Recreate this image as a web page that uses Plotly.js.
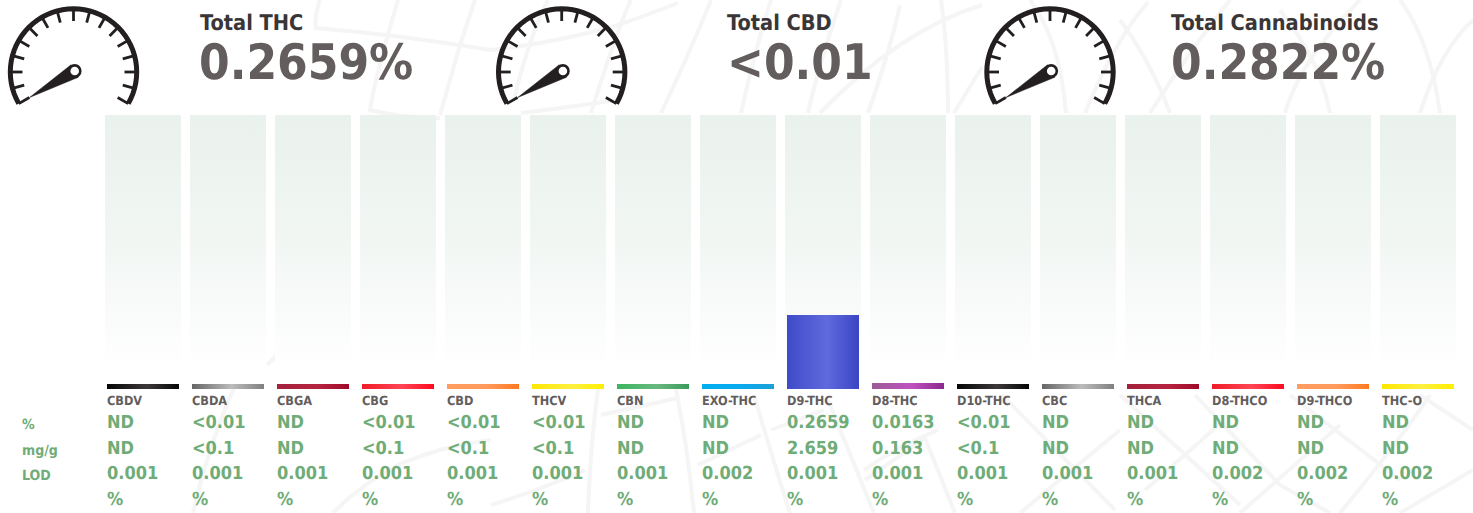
<!DOCTYPE html>
<html>
<head>
<meta charset="utf-8">
<script src="https://cdn.plot.ly/plotly-3.0.1.min.js"></script>
<style>html,body{margin:0;padding:0;background:#fff;overflow:hidden}#chart{width:1473px;height:513px}#chart text{text-rendering:geometricPrecision !important}</style>
</head>
<body>
<div id="chart"></div>
<script>
const categories = ["CBDV","CBDA","CBGA","CBG","CBD","THCV","CBN","EXO-THC","D9-THC","D8-THC","D10-THC","CBC","THCA","D8-THCO","D9-THCO","THC-O"];
const percentText = ["ND","<0.01","ND","<0.01","<0.01","<0.01","ND","ND","0.2659","0.0163","<0.01","ND","ND","ND","ND","ND"];
const mgText = ["ND","<0.1","ND","<0.1","<0.1","<0.1","ND","ND","2.659","0.163","<0.1","ND","ND","ND","ND","ND"];
const lodText = ["0.001","0.001","0.001","0.001","0.001","0.001","0.001","0.002","0.001","0.001","0.001","0.001","0.001","0.002","0.002","0.002"];
const unitText = ["%","%","%","%","%","%","%","%","%","%","%","%","%","%","%","%"];
const rowLabels = ["%","mg/g","LOD"];
// drawn bar heights (fraction of the full column)
const barValues = [0.018,0.018,0.018,0.018,0.018,0.018,0.018,0.018,0.27,0.022,0.018,0.018,0.018,0.018,0.018,0.018];
const trackValues = [1,1,1,1,1,1,1,1,1,1,1,1,1,1,1,1];
const gradStart = ["#060606","#666666","#a3213c","#f01c28","#ff9c60","#ffe600","#3cb560","#00aeef","#3f4ac8","#9a5c96","#060606","#666666","#a3213c","#f01c28","#ff9c60","#ffe600"];
const gradMid = ["#3c383a","#bcbcbc","#b5243f","#ff4555","#ff9a5c","#fff040","#68b880","#0aaaee","#5f6ade","#c050c0","#3c383a","#bcbcbc","#b5243f","#ff4555","#ff9a5c","#fff040"];
const gradEnd = ["#060606","#808080","#a00a2a","#ff0a1e","#ff7a20","#ffee00","#3c9a5c","#1ba0d8","#3b45c4","#8a2a8a","#060606","#808080","#a00a2a","#ff0a1e","#ff7a20","#ffee00"];
const totalNames = ["Total THC","Total CBD","Total Cannabinoids"];
const totalValues = ["0.2659%","<0.01","0.2822%"];
const totalNameX = [199,726,1170];
const totalValueX = [198,725.5,1169.5];
const gaugeCenterX = [73.5,561.7,1050];

const W = 1473, H = 513;
const px = x => x / W, py = y => 1 - y / H;
const fx = x => px(x).toFixed(5), fy = y => py(y).toFixed(5);

// background line work (pixel coordinates)
const backdrop = [
 "M320 0 Q314 18 316 28 Q400 35 491 50 Q560 42 618 25 Q650 14 678 3",
 "M398 0 L387 38 Q375 80 370 110 Q400 118 440 118",
 "M475 0 L460 45 L440 115",
 "M548 0 Q528 40 514 100",
 "M631 0 Q618 27 591 113",
 "M711 0 Q691 50 661 113",
 "M771 0 Q755 50 741 113",
 "M841 0 Q818 67 808 113",
 "M900 5 Q890 50 868 113",
 "M941 0 Q948 50 948 113",
 "M982 5 Q900 30 820 113",
 "M982 67 L954 113",
 "M618 100 Q571 107 521 113",
 "M1030 0 Q1060 40 1066 113",
 "M1148 2 Q1115 40 1085 113",
 "M1120 20 Q1150 60 1170 113",
 "M1230 0 Q1190 50 1150 113",
 "M1280 10 Q1320 60 1330 113",
 "M1360 0 Q1300 60 1285 113",
 "M1400 0 Q1430 40 1440 113",
 "M1473 20 Q1440 50 1420 113",
 "M193 513 Q212 430 247 360",
 "M333 513 Q360 485 400 464 Q445 445 491 440",
 "M267 365 L282 350",
 "M491 505 Q540 490 585 470",
 "M598 389 Q590 450 588 513",
 "M676 389 Q688 450 694 513",
 "M754 395 Q770 450 790 513",
 "M828 400 L874 513",
 "M601 415 L678 398",
 "M698 465 L761 435",
 "M771 430 L824 410",
 "M864 470 Q900 445 938 430",
 "M865 480 L925 438 L955 513",
 "M1002 395 L1115 510",
 "M1020 513 L1120 430",
 "M1120 395 L1240 505",
 "M1145 490 L1222 422",
 "M1195 395 L1280 485 L1330 513",
 "M1240 513 L1340 425",
 "M1290 395 L1400 480",
 "M1340 513 Q1400 440 1430 395",
 "M1420 395 L1473 430",
 "M1400 513 L1473 470"
];
function toPaper(d){
  return d.replace(/(-?\d+\.?\d*) (-?\d+\.?\d*)/g,(m,a,b)=>fx(+a)+" "+fy(+b));
}
const shapes = backdrop.map(d=>({type:"path",xref:"paper",yref:"paper",layer:"below",path:toPaper(d),
  line:{color:"#f5f5f5",width:4},fillcolor:"rgba(0,0,0,0)"}));

// gauge dials
const dialColor = "#231f20";
const dialCy = 72, dialR = 63.2, tickIn = 51;
gaugeCenterX.forEach(cx=>{
  const pt=(r,deg)=>[cx+r*Math.cos(deg*Math.PI/180),dialCy-r*Math.sin(deg*Math.PI/180)];
  let arc="";
  for(let a=210;a>=-30;a-=5){const p=pt(dialR,a);arc+=(arc?"L":"M")+fx(p[0])+" "+fy(p[1])+" ";}
  shapes.push({type:"path",xref:"paper",yref:"paper",layer:"above",path:arc,line:{color:dialColor,width:5},fillcolor:"rgba(0,0,0,0)"});
  for(let a=210;a>=-30;a-=15){
    const p=pt(dialR,a),q=pt(tickIn,a);
    shapes.push({type:"path",xref:"paper",yref:"paper",layer:"above",path:"M"+fx(p[0])+" "+fy(p[1])+" L"+fx(q[0])+" "+fy(q[1]),line:{color:dialColor,width:2.8}});
  }
  const hub=[cx+1.2,71], tip=[cx-44,97.5];
  const dx=tip[0]-hub[0],dy=tip[1]-hub[1],L=Math.hypot(dx,dy),nx=-dy/L,ny=dx/L,hr=7.2;
  const needle="M"+fx(tip[0])+" "+fy(tip[1])+" L"+fx(hub[0]+nx*hr)+" "+fy(hub[1]+ny*hr)+" L"+fx(hub[0]-nx*hr)+" "+fy(hub[1]-ny*hr)+" Z";
  shapes.push({type:"path",xref:"paper",yref:"paper",layer:"above",path:needle,fillcolor:dialColor,line:{color:dialColor,width:0.5}});
  shapes.push({type:"circle",xref:"paper",yref:"paper",layer:"above",x0:px(hub[0]-5.6),x1:px(hub[0]+5.6),y0:py(hub[1]+5.6),y1:py(hub[1]-5.6),fillcolor:"#ffffff",line:{color:dialColor,width:2.6}});
});

// text
const FONT = "DejaVu Sans Condensed";
const annotations = [];
function pixelText(text,x,y,size,color){
  annotations.push({text:text,xref:"paper",yref:"paper",x:px(x),y:py(y),xanchor:"left",yanchor:"middle",showarrow:false,borderpad:0,
    font:{family:FONT,size:size,color:color,weight:700}});
}
totalNames.forEach((t,i)=>pixelText(t,totalNameX[i],22,21.6,"#3a3637"));
totalValues.forEach((t,i)=>pixelText(t.replace("<","&lt;"),totalValueX[i],63,49,"#635d5d"));
const green="#6fac77";
rowLabels.forEach((t,i)=>pixelText(t,21,[424,450,475][i],14,green));
function columnText(values,y,size,color){
  values.forEach((t,i)=>annotations.push({text:t.replace("<","&lt;"),xref:"x",yref:"paper",x:categories[i],xshift:-37,y:py(y),
    xanchor:"left",yanchor:"middle",showarrow:false,borderpad:0,font:{family:FONT,size:size,color:color,weight:700}}));
}
columnText(categories,400,12.6,"#635d5d");
columnText(percentText,421,18,green);
columnText(mgText,447,18,green);
columnText(lodText,472,18,green);
columnText(unitText,498,18,green);

const trackTrace = {type:"bar",x:categories,y:trackValues,width:0.894,marker:{color:"#f3f7f4",line:{width:0}},hoverinfo:"skip",showlegend:false,name:"track"};
const barTrace = {type:"bar",x:categories,y:barValues,width:0.847,marker:{color:gradMid,line:{width:0}},hoverinfo:"x",showlegend:false,name:"value"};

const layout = {
  width:W,height:H,margin:{l:0,r:0,t:0,b:0},autosize:false,showlegend:false,
  paper_bgcolor:"#ffffff",plot_bgcolor:"rgba(0,0,0,0)",barmode:"overlay",
  xaxis:{type:"category",domain:[100.5/W,1460.5/W],range:[-0.5,15.5],showgrid:false,zeroline:false,showticklabels:false,ticks:"",showline:false,fixedrange:true},
  yaxis:{domain:[py(389),py(115)],range:[0,1],showgrid:false,zeroline:false,showticklabels:false,ticks:"",showline:false,fixedrange:true},
  shapes:shapes,annotations:annotations
};

Plotly.newPlot("chart",[trackTrace,barTrace],layout,{displayModeBar:false,staticPlot:true}).then(gd=>{
  const svg=gd.querySelector(".main-svg");
  const NS="http://www.w3.org/2000/svg";
  let defs=svg.querySelector("defs");
  if(!defs){defs=document.createElementNS(NS,"defs");svg.insertBefore(defs,svg.firstChild);}
  function grad(id,x2,y2,stops){
    const g=document.createElementNS(NS,"linearGradient");
    g.setAttribute("id",id);g.setAttribute("x1","0");g.setAttribute("y1","0");g.setAttribute("x2",x2);g.setAttribute("y2",y2);
    stops.forEach(s=>{const e=document.createElementNS(NS,"stop");e.setAttribute("offset",s[0]);e.setAttribute("stop-color",s[1]);g.appendChild(e);});
    defs.appendChild(g);
  }
  grad("trackGrad","0","1",[[0,"#eaf2ed"],[0.45,"#f1f6f3"],[0.72,"#f9fbfa"],[0.93,"#ffffff"],[1,"#ffffff"]]);
  categories.forEach((c,i)=>grad("barGrad"+i,"1","0",[[0,gradStart[i]],[0.55,gradMid[i]],[1,gradEnd[i]]]));
  const traces=svg.querySelectorAll(".barlayer .trace");
  traces[0].querySelectorAll("path").forEach(p=>{p.style.fill="url(#trackGrad)";});
  traces[1].querySelectorAll("path").forEach((p,i)=>{p.style.fill="url(#barGrad"+i+")";});
});
</script>
</body>
</html>
